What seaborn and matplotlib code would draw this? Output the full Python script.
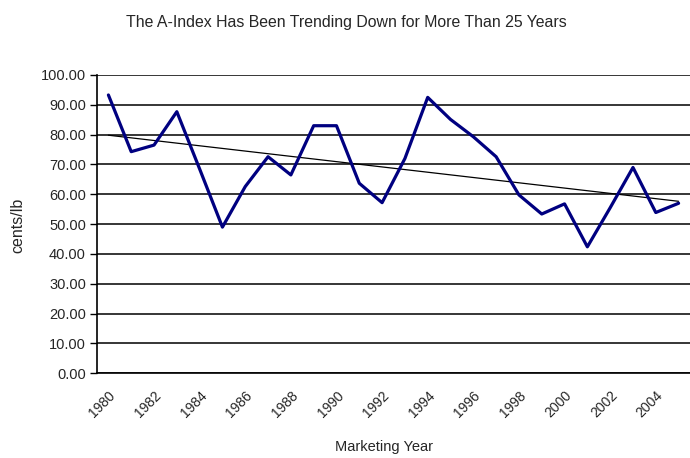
import numpy as np
import pandas as pd
import matplotlib
matplotlib.use("Agg")
import matplotlib.pyplot as plt
import matplotlib.transforms as mtransforms
import seaborn as sns

# Data
years = list(range(1980, 2006))
a_index = [93.3, 74.3, 76.5, 87.7, 68.5, 49.0, 62.6, 72.6, 66.5, 83.0,
           83.0, 63.7, 57.2, 72.0, 92.5, 85.1, 79.3, 72.6, 59.8, 53.4,
           56.8, 42.4, 55.5, 69.0, 53.9, 57.0]
label_years = list(range(1980, 2005, 2))
y_ticks = list(range(0, 101, 10))

title = "The A-Index Has Been Trending Down for More Than 25 Years"
x_title = "Marketing Year"
y_title = "cents/lb"

df = pd.DataFrame({"year": years, "index": a_index})

sns.set_style("white")
plt.rcParams["font.family"] = ["Liberation Sans", "DejaVu Sans"]

W, H = 690, 458
fig = plt.figure(figsize=(W / 100, H / 100), dpi=100)
left_px, right_px, top_px, bot_px = 97, 690, 75, 373.3
ax = fig.add_axes([left_px / W, (H - bot_px) / H, (right_px - left_px) / W, (bot_px - top_px) / H])

# category spacing ~22.92 px; axis starts at 1979.5
span = (right_px - left_px) / 22.92
ax.set_xlim(1979.5, 1979.5 + span)
ax.set_ylim(0, 100)

# gridlines
ax.set_yticks(y_ticks)
ax.set_yticklabels([f"{v:.2f}" for v in y_ticks])
ax.yaxis.grid(True, color="black", linewidth=1.1)
ax.set_axisbelow(True)

# trend line (linear regression) and data line
sns.regplot(data=df, x="year", y="index", scatter=False, ci=None, ax=ax,
            truncate=True, line_kws={"color": "black", "linewidth": 0.9})
sns.lineplot(data=df, x="year", y="index", ax=ax, color="#000080", linewidth=2.3)

for s in ["top", "right"]:
    ax.spines[s].set_visible(False)
for s in ["left", "bottom"]:
    ax.spines[s].set_color("black")
    ax.spines[s].set_linewidth(1.2)

ax.set_xticks(label_years)
ax.set_xticklabels([str(y) for y in label_years], rotation=45, ha="right",
                   va="top", rotation_mode="anchor", fontsize=10)
offset = mtransforms.ScaledTranslation(-4 / 100, 0, fig.dpi_scale_trans)
for lbl in ax.get_xticklabels():
    lbl.set_transform(lbl.get_transform() + offset)
ax.set_xticks(np.arange(1979.5, 2006, 1.0), minor=True)
ax.tick_params(axis="x", which="major", length=0, pad=11)
ax.tick_params(axis="x", which="minor", length=4, width=1.0, direction="out", color="black")
ax.tick_params(axis="y", which="major", length=5, width=1.0, direction="out",
               color="black", labelsize=10.5, pad=3, left=True)

ax.set_xlabel("")
ax.set_ylabel("")

fig.text(346 / W, 1 - 22 / H, title, ha="center", va="center", fontsize=11.4)
fig.text(384 / W, 1 - 447 / H, x_title, ha="center", va="center", fontsize=10.5)
fig.text(18 / W, 1 - 225 / H, y_title, ha="center", va="center", rotation=90, fontsize=11.5)

fig.savefig("out.png", dpi=100)
